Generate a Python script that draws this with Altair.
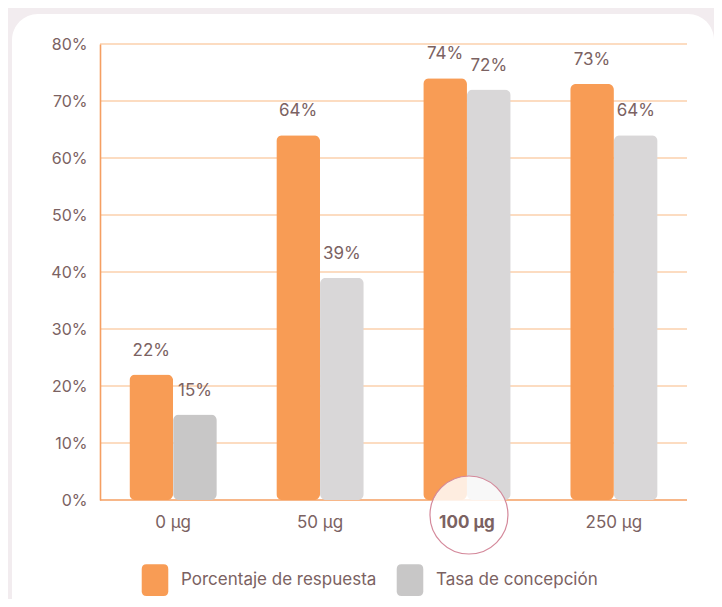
import altair as alt
import pandas as pd

doses = ["0 µg", "50 µg", "100 µg", "250 µg"]
respuesta = [22, 64, 74, 73]
concepcion = [15, 39, 72, 64]
series = ["Porcentaje de respuesta", "Tasa de concepción"]
y_ticks = [0, 10, 20, 30, 40, 50, 60, 70, 80]
grid_vals = [10, 20, 30, 40, 50, 60, 70, 80]
highlight = "100 µg"

ORANGE = "#F89C55"
GRAY = "#D9D7D8"
GRAY_DARK = "#C8C7C7"
TXT = "#7B6262"
GRID = "#FBD0AC"
AXIS = "#F59F62"
FONT = "Inter"

rows = []
for i, d in enumerate(doses):
    rows.append({"dose": d, "serie": series[0], "val": respuesta[i], "key": series[0]})
    rows.append({"dose": d, "serie": series[1], "val": concepcion[i],
                 "key": series[1] if i == 0 else "Tasa (light)"})
df = pd.DataFrame(rows)

xscale = alt.Scale(domain=doses, paddingInner=0.405, paddingOuter=0.2)
xoff = alt.XOffset("serie:N", scale=alt.Scale(domain=series, paddingInner=0, paddingOuter=0))
yscale = alt.Scale(domain=[0, 80], nice=False)

card = alt.Chart(pd.DataFrame({"a": [1]})).mark_rect(
    fill="white", cornerRadius=26
).encode(x=alt.value(-88), x2=alt.value(614), y=alt.value(-30), y2=alt.value(590))

grid = alt.Chart(pd.DataFrame({"g": grid_vals})).mark_rule(
    color=GRID, strokeWidth=1.4
).encode(y=alt.Y("g:Q", scale=yscale))

base_rule = alt.Chart(pd.DataFrame({"g": [0]})).mark_rule(
    color=AXIS, strokeWidth=1.6
).encode(y=alt.Y("g:Q", scale=yscale))

legend_path = ("M -0.54 -1 L 0.54 -1 Q 0.84 -1 0.84 -0.7 L 0.84 0.7 Q 0.84 1 0.54 1 "
               "L -0.54 1 Q -0.84 1 -0.84 0.7 L -0.84 -0.7 Q -0.84 -1 -0.54 -1 Z")

bars = alt.Chart(df).mark_bar(cornerRadius=6).encode(
    x=alt.X("dose:N", scale=xscale, sort=doses,
            axis=alt.Axis(title=None, domain=False, ticks=False, labelPadding=14,
                          labelFontSize=17, labelColor=TXT, labelFont=FONT,
                          labelFontWeight=alt.ExprRef(expr=f"datum.value == '{highlight}' ? 'bold' : 'normal'"),
                          labelAngle=0, zindex=2)),
    xOffset=xoff,
    y=alt.Y("val:Q", scale=yscale,
            axis=alt.Axis(title=None, values=y_ticks, grid=False, ticks=False,
                          domain=True, domainColor=AXIS, domainWidth=1.6,
                          labelExpr="datum.value + '%'", labelPadding=13,
                          labelFontSize=16, labelColor=TXT, labelFont=FONT, zindex=2)),
    color=alt.Color("key:N",
                    scale=alt.Scale(domain=series + ["Tasa (light)"], range=[ORANGE, GRAY_DARK, GRAY]),
                    legend=alt.Legend(title=None, values=series, orient="none",
                                      legendX=39, legendY=520, direction="horizontal",
                                      symbolType=legend_path, symbolSize=1000,
                                      symbolStrokeWidth=0, symbolOpacity=1,
                                      labelFontSize=17, labelColor=TXT, labelFont=FONT,
                                      labelLimit=400, labelOffset=10, columnPadding=17)),
)

labels = alt.Chart(df).transform_calculate(lbl="datum.val + '%'").mark_text(
    fontSize=17, color=TXT, font=FONT, baseline="alphabetic", dy=-19
).encode(
    x=alt.X("dose:N", scale=xscale, sort=doses),
    xOffset=xoff,
    y=alt.Y("val:Q", scale=yscale),
    text="lbl:N",
)

circle = alt.Chart(pd.DataFrame({"dose": [highlight]})).mark_point(
    shape="circle", size=6084, filled=True, fill="white", fillOpacity=0.82,
    stroke="#D4899B", strokeWidth=1.2, strokeOpacity=1, xOffset=2
).encode(x=alt.X("dose:N", scale=xscale, sort=doses), y=alt.value(471))

chart = alt.layer(card, grid, base_rule, bars, labels, circle).properties(
    width=587, height=456,
    background="#F2ECEF",
    padding={"left": 92, "top": 36, "right": 27, "bottom": 99},
    autosize=alt.AutoSizeParams(type="none"),
).configure_view(stroke=None)

chart.save("out.html", embed_options={"renderer": "svg", "actions": False})
